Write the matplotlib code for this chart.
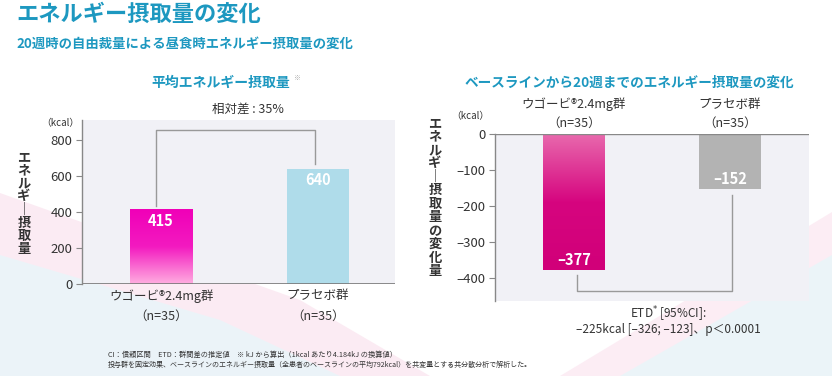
import numpy as np
import matplotlib
matplotlib.use('Agg')
import matplotlib.pyplot as plt
from matplotlib.colors import LinearSegmentedColormap
from matplotlib.patches import Polygon

plt.rcParams['font.family'] = ['Noto Sans CJK JP', 'DejaVu Sans']

# data
groups = ['ウゴービ®2.4mg群\n（n=35）', 'プラセボ群\n（n=35）']
mean_intake = [415, 640]
change_intake = [-377, -152]
left_ticks = [0, 200, 400, 600, 800]
right_ticks = [0, -100, -200, -300, -400]

TEAL = '#1d98c0'
TXT = '#333333'
W, H = 832, 376

fig = plt.figure(figsize=(W / 100, H / 100), dpi=100)
fig.patch.set_facecolor('white')

# faint diagonal decoration in the background
bg = fig.add_axes([0, 0, 1, 1], zorder=-10)
bg.set_xlim(0, W)
bg.set_ylim(H, 0)
bg.axis('off')
bg.add_patch(Polygon([[0, 193], [300, 300], [430, 376], [0, 376]], closed=True,
                     fc='#fbe6f0', ec='none', alpha=0.8))
bg.add_patch(Polygon([[0, 255], [220, 320], [340, 376], [0, 376]], closed=True,
                     fc='#eaf5f9', ec='none', alpha=0.9))
bg.add_patch(Polygon([[832, 212], [832, 376], [560, 376]], closed=True,
                     fc='#fbe6f0', ec='none', alpha=0.7))
bg.add_patch(Polygon([[832, 255], [832, 376], [620, 376]], closed=True,
                     fc='#eaf5f9', ec='none', alpha=0.9))


def px_axes(x0, y0, x1, y1):
    return fig.add_axes([x0 / W, 1 - y1 / H, (x1 - x0) / W, (y1 - y0) / H])


def gradient_bar(ax, bar, colors):
    x, y = bar.get_x(), bar.get_y()
    w, h = bar.get_width(), bar.get_height()
    cmap = LinearSegmentedColormap.from_list('g', colors)
    grad = np.linspace(0, 1, 256).reshape(-1, 1)
    im = ax.imshow(grad, cmap=cmap, aspect='auto', origin='lower',
                   extent=[x, x + w, min(y, y + h), max(y, y + h)], zorder=3)
    im.set_clip_path(bar)
    bar.set_facecolor('none')


def style_axes(ax):
    ax.set_facecolor('#f1f1f6')
    for s in ['top', 'right', 'bottom', 'left']:
        ax.spines[s].set_visible(False)
    ax.tick_params(axis='y', length=4, color='#888888', labelsize=9.5,
                   labelcolor=TXT, pad=3)
    ax.tick_params(axis='x', length=0)


# ---------- left panel ----------
ax1 = px_axes(82, 120, 395, 284)
style_axes(ax1)
xs = np.arange(len(groups))
bars1 = ax1.bar(xs, mean_intake, width=0.395, zorder=3)
gradient_bar(ax1, bars1[0], ['#ffaee0', '#f31ac0', '#f000b8'])
bars1[1].set_facecolor('#afdcea')
ax1.set_xlim(-0.503, 1.49)
ax1.set_ylim(0, 911)
ax1.set_yticks(left_ticks)
ax1.set_xticks([])
ax1.axhline(0, color='#777777', lw=1.2, zorder=4)
ax1.plot([-0.5, -0.5], [0, 911], color='#888888', lw=1, zorder=4, clip_on=False)
for x, v in zip(xs, mean_intake):
    ax1.text(x, v - 65, str(v), ha='center', va='center', color='white',
             fontsize=10.5, fontweight='bold', zorder=5)
ax1.plot([-0.03, -0.03, 0.98, 0.98], [433, 855, 855, 667], color='#999999',
         lw=1, zorder=4)
for x, g in zip(xs, groups):
    ax1.text(x, -28, g, ha='center', va='top', fontsize=9, color=TXT,
             linespacing=1.75)

fig.text(221 / W, 1 - 83 / H, '平均エネルギー摂取量', ha='center', va='center',
         fontsize=10, fontweight='bold', color=TEAL)
fig.text(293 / W, 1 - 78 / H, '※', ha='left', va='center', fontsize=5,
         color='#aaaaaa')
fig.text(248 / W, 1 - 109 / H, '相対差 : 35%', ha='center', va='center',
         fontsize=9, color=TXT)
fig.text(60 / W, 1 - 123 / H, '（kcal）', ha='center', va='center', fontsize=7,
         color=TXT)
fig.text(24 / W, 1 - 203 / H, '\n'.join('エネルギ｜摂取量'), ha='center',
         va='center', fontsize=9.5, fontweight='bold', color=TXT,
         linespacing=0.93)

# ---------- right panel ----------
ax2 = px_axes(495, 134, 809, 301)
style_axes(ax2)
bars2 = ax2.bar(xs, change_intake, width=0.395, zorder=3)
gradient_bar(ax2, bars2[0], ['#d10079', '#d6057f', '#e869ad'])
bars2[1].set_facecolor('#b3b3b3')
ax2.set_xlim(-0.506, 1.506)
ax2.set_ylim(-464, 0)
ax2.set_yticks(right_ticks)
ax2.set_yticklabels(['0'] + ['–%d' % (-t) for t in right_ticks[1:]])
ax2.set_xticks([])
ax2.axhline(0, color='#888888', lw=1, zorder=4)
ax2.plot([-0.506, -0.506], [-464, 0], color='#888888', lw=1, zorder=4,
         clip_on=False)
ax2.set_ylim(-464, 0)
for x, v in zip(xs, change_intake):
    ax2.text(x, v + 26, '–%d' % (-v), ha='center', va='center', color='white',
             fontsize=10.5, fontweight='bold', zorder=5)
ax2.plot([0.02, 0.02, 1.01, 1.01], [-392, -436, -436, -169], color='#999999',
         lw=1, zorder=4)
for x, g in zip(xs, groups):
    ax2.text(x, 12, g, ha='center', va='bottom', fontsize=9, color=TXT,
             linespacing=1.6)

fig.text(629 / W, 1 - 83 / H, 'ベースラインから20週までのエネルギー摂取量の変化',
         ha='center', va='center', fontsize=9.8, fontweight='bold', color=TEAL)
fig.text(470 / W, 1 - 116 / H, '（kcal）', ha='center', va='center',
         fontsize=7, color=TXT)
fig.text(435 / W, 1 - 197 / H, '\n'.join('エネルギ｜摂取量の変化量'),
         ha='center', va='center', fontsize=9.5, fontweight='bold', color=TXT,
         linespacing=0.95)
fig.text(668 / W, 1 - 314 / H, 'ETD$^{*}$ [95%CI]:', ha='center', va='center',
         fontsize=8.5, color=TXT)
fig.text(668 / W, 1 - 329 / H, '–225kcal [–326; –123]、p＜0.0001',
         ha='center', va='center', fontsize=8.5, color=TXT)

# ---------- titles and notes ----------
fig.text(16 / W, 1 - 14 / H, 'エネルギー摂取量の変化', ha='left', va='center',
         fontsize=16, fontweight='bold', color=TEAL)
fig.text(16 / W, 1 - 44 / H, '20週時の自由裁量による昼食時エネルギー摂取量の変化',
         ha='left', va='center', fontsize=9.6, fontweight='bold', color=TEAL)
fig.text(108 / W, 1 - 355 / H,
         'CI：信頼区間　ETD：群間差の推定値　※ kJ から算出（1kcal あたり4.184kJ の換算値）',
         ha='left', va='center', fontsize=5.2, color=TXT)
fig.text(108 / W, 1 - 365 / H,
         '投与群を固定効果、ベースラインのエネルギー摂取量（全患者のベースラインの平均792kcal）を共変量とする共分散分析で解析した。',
         ha='left', va='center', fontsize=5.05, color=TXT)

fig.savefig('out.png', dpi=100)
